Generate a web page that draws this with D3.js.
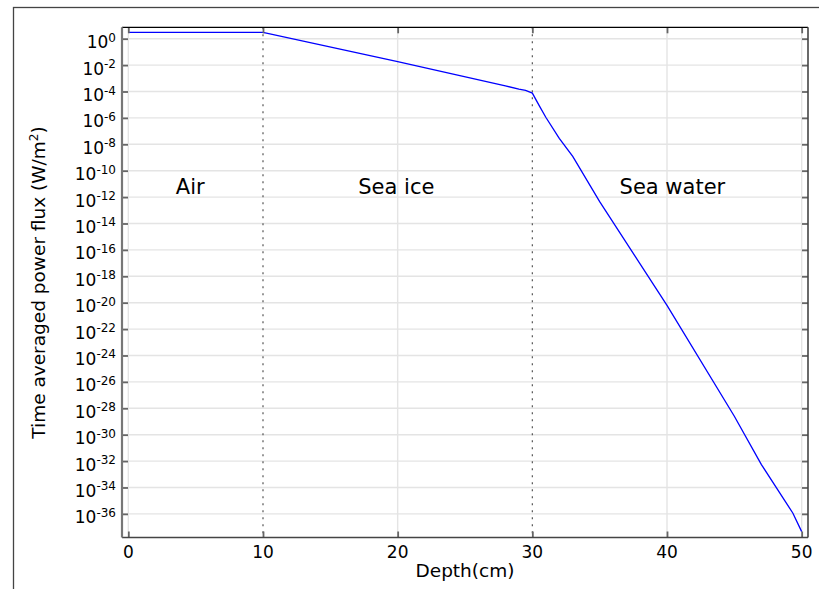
<!DOCTYPE html>
<html>
<head>
<meta charset="utf-8">
<script src="https://cdn.jsdelivr.net/npm/d3@7"></script>
<style>
  html, body { margin: 0; padding: 0; background: #fff; }
  svg { display: block; font-family: "DejaVu Sans", sans-serif; }
</style>
</head>
<body>
<svg id="chart" width="819" height="589"></svg>
<script>
// Depth profile of the time averaged power flux through air, sea ice and sea water
const depthCm = [0, 10, 20, 28, 29, 29.5, 30, 30.5, 31, 32, 33, 35, 40, 45, 47, 49.35, 50];
const powerFlux = [3.05, 3.05, 1.82e-2, 2.69e-4, 1.51e-4, 1.2e-4, 7.59e-5, 8.9e-6, 1.12e-6,
                   2.8e-8, 1.2e-9, 4.5e-13, 6.3e-21, 2.5e-29, 5.6e-33, 1.12e-36, 4.5e-38];

const xTicks = [0, 10, 20, 30, 40, 50];
const yTickExponents = [0, -2, -4, -6, -8, -10, -12, -14, -16, -18, -20, -22, -24, -26, -28, -30, -32, -34, -36];
const boundaries = [10, 30];
const regions = [
  { name: "Air", depth: 4.6 },
  { name: "Sea ice", depth: 19.9 },
  { name: "Sea water", depth: 40.4 }
];
const regionLabelFlux = 1e-11;

const plot = { left: 122, right: 808, top: 27.3, bottom: 537.5 };

const svg = d3.select("#chart");

// outer frame
svg.append("rect")
  .attr("x", 13.5).attr("y", 7.5)
  .attr("width", 830).attr("height", 600)
  .attr("fill", "none").attr("stroke", "#444").attr("stroke-width", 1.3);

const x = d3.scaleLinear().domain([-0.47, 50.47]).range([plot.left, plot.right]);
const y = d3.scaleLog().domain([Math.pow(10, -37.79), Math.pow(10, 0.864)]).range([plot.bottom, plot.top]);
const yTicks = yTickExponents.map(e => Math.pow(10, e));

// grid
const grid = svg.append("g").attr("stroke", "#e4e4e4").attr("stroke-width", 1.4);
grid.selectAll("line.h").data(yTicks).join("line").attr("class", "h")
  .attr("x1", plot.left).attr("x2", plot.right)
  .attr("y1", d => y(d)).attr("y2", d => y(d));
grid.selectAll("line.v").data(xTicks.filter(d => !boundaries.includes(d))).join("line").attr("class", "v")
  .attr("x1", d => x(d)).attr("x2", d => x(d))
  .attr("y1", plot.top).attr("y2", plot.bottom);

// material boundaries
svg.append("g").selectAll("line").data(boundaries).join("line")
  .attr("x1", d => x(d)).attr("x2", d => x(d))
  .attr("y1", plot.top).attr("y2", plot.bottom)
  .attr("stroke", "#555").attr("stroke-width", 1.2)
  .attr("stroke-dasharray", "2,5");

// data curve
const line = d3.line().x((d, i) => x(depthCm[i])).y(d => y(d));
svg.append("path").datum(powerFlux)
  .attr("d", line)
  .attr("fill", "none").attr("stroke", "#0000ff").attr("stroke-width", 1.3);

// axes with inward ticks
function styleAxis(g) {
  g.select(".domain").remove();
  g.selectAll(".tick line").attr("stroke", "#666").attr("stroke-width", 1.8);
  g.selectAll(".tick text").remove();
}
svg.append("g").attr("transform", `translate(${plot.left},0)`)
  .call(d3.axisLeft(y).tickValues(yTicks).tickSize(-6).tickFormat("")).call(styleAxis);
svg.append("g").attr("transform", `translate(${plot.right},0)`)
  .call(d3.axisRight(y).tickValues(yTicks).tickSize(-6).tickFormat("")).call(styleAxis);
svg.append("g").attr("transform", `translate(0,${plot.bottom})`)
  .call(d3.axisBottom(x).tickValues(xTicks).tickSize(-6).tickFormat("")).call(styleAxis);
svg.append("g").attr("transform", `translate(0,${plot.top})`)
  .call(d3.axisTop(x).tickValues(xTicks).tickSize(-6).tickFormat("")).call(styleAxis);

// plot border
svg.append("line").attr("x1", plot.left).attr("x2", plot.right).attr("y1", plot.top).attr("y2", plot.top)
  .attr("stroke", "#000").attr("stroke-width", 1.2);
svg.append("line").attr("x1", plot.right).attr("x2", plot.right).attr("y1", plot.top).attr("y2", plot.bottom)
  .attr("stroke", "#444").attr("stroke-width", 1.6);
svg.append("line").attr("x1", plot.left).attr("x2", plot.right).attr("y1", plot.bottom).attr("y2", plot.bottom)
  .attr("stroke", "#444").attr("stroke-width", 1.6);
svg.append("line").attr("x1", plot.left).attr("x2", plot.left).attr("y1", plot.top).attr("y2", plot.bottom)
  .attr("stroke", "#777").attr("stroke-width", 2.2);

// y tick labels: 10 with superscript exponent
const yLabels = svg.append("g").attr("fill", "#000").attr("text-anchor", "end");
yTickExponents.forEach(e => {
  const yy = y(Math.pow(10, e));
  const t = yLabels.append("text").attr("x", 116).attr("y", yy + 9.5).attr("font-size", 17);
  t.append("tspan").text("10");
  t.append("tspan").attr("font-size", 12).attr("dy", -6.5).text(e === 0 ? "0" : "-" + Math.abs(e));
});

// x tick labels
svg.append("g").selectAll("text").data(xTicks).join("text")
  .attr("x", d => x(d)).attr("y", 558)
  .attr("text-anchor", "middle").attr("font-size", 17)
  .text(d => d);

// axis titles
svg.append("text").attr("x", 465).attr("y", 577)
  .attr("text-anchor", "middle").attr("font-size", 18.5)
  .text("Depth(cm)");
const yt = svg.append("text")
  .attr("transform", "translate(45,282.5) rotate(-90)")
  .attr("text-anchor", "middle").attr("font-size", 18.5);
yt.append("tspan").text("Time averaged power flux (W/m");
yt.append("tspan").attr("font-size", 12).attr("dy", -7).text("2");
yt.append("tspan").attr("dy", 7).text(")");

// region labels
svg.append("g").selectAll("text").data(regions).join("text")
  .attr("x", d => x(d.depth)).attr("y", y(regionLabelFlux) + 10)
  .attr("text-anchor", "middle").attr("font-size", 21)
  .text(d => d.name);
</script>
</body>
</html>
